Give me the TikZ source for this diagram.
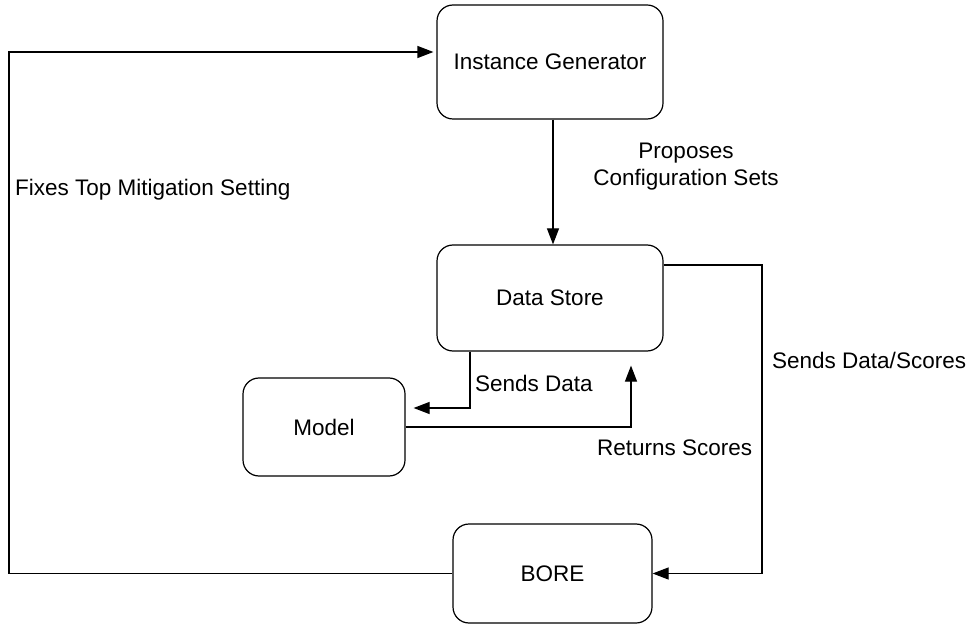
\documentclass[tikz,border=0pt]{standalone}
\usepackage{fontspec}
\setmainfont{Liberation Sans}
\usetikzlibrary{arrows.meta,calc}

\begin{document}
\begin{tikzpicture}[x=1pt,y=-1pt,
  every node/.style={font=\fontsize{22.5}{27}\selectfont, inner sep=0pt},
  stage/.style={draw, line width=1.2pt, rounded corners=16pt, align=center},
  flow/.style={line width=1.2pt, -{Triangle[length=16pt,width=12pt]}},
  tag/.style={anchor=west, align=left}]

  % canvas
  \useasboundingbox (0,0) rectangle (969,628);

  % process stages
  \node[stage, minimum width=226pt, minimum height=114pt] (ig)    at (550,62)      {Instance Generator};
  \node[stage, minimum width=226pt, minimum height=106pt] (ds)    at (550,298)     {Data Store};
  \node[stage, minimum width=162pt, minimum height=98pt]  (model) at (324,427)     {Model};
  \node[stage, minimum width=199pt, minimum height=99pt]  (bore)  at (552.5,573.5) {BORE};

  % bend points of the orthogonal connectors
  \coordinate (rightlane) at (762,265);
  \coordinate (leftlane)  at (9,52);
  \coordinate (sendbend)  at (470,408);
  \coordinate (backbend)  at (631,427);

  % connectors
  \draw[flow] ([xshift=3pt]ig.south) -- ([xshift=3pt]ds.north);
  \draw[flow] (ds.east |- rightlane) -- (rightlane) |- (bore.east);
  \draw[flow, shorten >=3pt] (bore.west) -| (leftlane) -- (ig.west |- leftlane);
  \draw[flow, shorten >=8pt] (ds.south -| sendbend) -- (sendbend) -- (model.east |- sendbend);
  \draw[flow, shorten >=14pt] (model.east) -- (backbend) -- (ds.south -| backbend);

  % connector labels
  \node[align=center] (lblprop)  at (686,166.5) {Proposes\\Configuration Sets};
  \node[tag] (lblfix)   at (15,190)  {Fixes Top Mitigation Setting};
  \node[tag] (lblsend)  at (475,383) {Sends Data};
  \node[tag] (lblscore) at (772,360) {Sends Data/Scores};
  \node[tag] (lblret)   at (597,448) {Returns Scores};
\end{tikzpicture}
\end{document}
